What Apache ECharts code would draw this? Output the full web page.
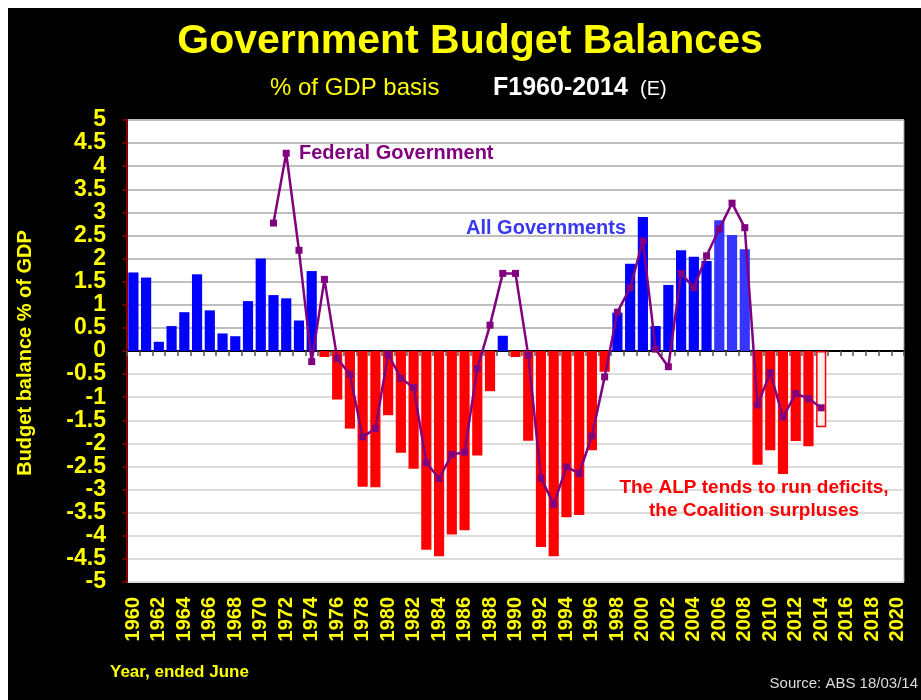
<!DOCTYPE html>
<html>
<head>
<meta charset="utf-8">
<title>Government Budget Balances</title>
<script src="https://cdn.jsdelivr.net/npm/echarts@6/dist/echarts.min.js"></script>
<style>
  html, body { margin: 0; padding: 0; background: #ffffff; }
  #chart { width: 921px; height: 700px; }
</style>
</head>
<body>
<div id="chart"></div>
<script>
// Financial years ended June, 1960 to 2020 (axis runs past the last observation)
const years = [];
for (let y = 1960; y <= 2020; y++) years.push(String(y));

// All governments budget balance, % of GDP, 1960-2014 (2014 is an estimate)
const allGovernments = [
  1.70, 1.59, 0.20, 0.54, 0.84, 1.66, 0.88, 0.38, 0.32, 1.08,   // 1960-1969
  2.00, 1.21, 1.14, 0.66, 1.73, -0.13, -1.05, -1.68, -2.94, -2.95, // 1970-1979
  -1.39, -2.20, -2.55, -4.30, -4.44, -3.97, -3.88, -2.26, -0.87, 0.33, // 1980-1989
  -0.13, -1.94, -4.24, -4.44, -3.60, -3.55, -2.15, -0.45, 0.83, 1.89, // 1990-1999
  2.90, 0.54, 1.43, 2.18, 2.04, 1.95, 2.83, 2.51, 2.20, -2.46,    // 2000-2009
  -2.15, -2.66, -1.95, -2.06, -1.65                               // 2010-2014
];

// Federal government budget balance, % of GDP, 1971-2014
const federalStart = 1971;
const federalGovernment = [
  2.77, 4.28, 2.18, -0.23, 1.55, -0.16, -0.51, -1.86, -1.68,      // 1971-1979
  -0.07, -0.59, -0.79, -2.42, -2.76, -2.24, -2.19, -0.38, 0.56, 1.68, // 1980-1989
  1.68, -0.09, -2.75, -3.32, -2.51, -2.65, -1.84, -0.56, 0.84, 1.37, // 1990-1999
  2.38, 0.04, -0.34, 1.68, 1.37, 2.06, 2.64, 3.20, 2.67, -1.17,   // 2000-2009
  -0.47, -1.43, -0.92, -1.03, -1.23                               // 2010-2014
];

const estimateYear = '2014';
const yTicks = { min: -5, max: 5, step: 0.5 };

const FONT = "'Liberation Sans', Arial, sans-serif";
const YELLOW = '#ffff00';
const PURPLE = '#800080';

// Bars: blue for surplus, red for deficit; estimated year drawn hollow
const barData = years.map((yr, i) => {
  const v = i < allGovernments.length ? allGovernments[i] : null;
  if (v === null) return null;
  let style;
  if (yr === estimateYear) {
    style = { color: '#fff0f0', borderColor: '#ff0000', borderWidth: 1.5 };
  } else if (v >= 0) {
    style = { color: (+yr >= 2006 ? '#3535ff' : '#0000ff') };
  } else {
    style = { color: '#ff0000' };
  }
  return { value: v, itemStyle: style };
});

const lineData = years.map(yr => {
  const k = +yr - federalStart;
  return (k >= 0 && k < federalGovernment.length) ? federalGovernment[k] : null;
});

// Gridlines: lighter below the zero line, darker above
const nLines = Math.round((yTicks.max - yTicks.min) / yTicks.step) + 1;
const gridColors = [];
for (let i = 0; i < nLines; i++) gridColors.push(i < nLines / 2 - 0.5 ? '#dcdcdc' : '#bfbfbf');

const chart = echarts.init(document.getElementById('chart'), null, { renderer: 'canvas' });

chart.setOption({
  backgroundColor: '#000000',
  animation: false,
  grid: {
    left: 127, right: 17, top: 120, bottom: 118,
    show: true, backgroundColor: '#ffffff', borderColor: '#9a9a9a', borderWidth: 1
  },
  xAxis: [
    {
      type: 'category', data: years, position: 'bottom',
      axisLine: { show: false, onZero: false },
      axisTick: { show: false },
      splitLine: { show: false },
      axisLabel: {
        interval: 1, rotate: 90, margin: 15,
        color: YELLOW, fontFamily: FONT, fontWeight: 'bold', fontSize: 20
      }
    },
    {
      type: 'category', data: years, position: 'top',
      axisLine: { show: true, onZero: true, lineStyle: { color: '#000000', width: 2 } },
      axisTick: { show: true, inside: true, length: 5, interval: 0, lineStyle: { color: '#555555', width: 1.5 } },
      axisLabel: { show: false },
      splitLine: { show: false }
    }
  ],
  yAxis: {
    type: 'value', min: yTicks.min, max: yTicks.max, interval: yTicks.step,
    axisLine: { show: true, lineStyle: { color: '#800000', width: 2 } },
    axisTick: { show: true, length: 5, lineStyle: { color: '#800000', width: 1.5 } },
    axisLabel: {
      margin: 21, color: YELLOW, fontFamily: FONT, fontWeight: 'bold', fontSize: 23
    },
    splitLine: { show: true, lineStyle: { color: gridColors, width: 2 } }
  },
  series: [
    {
      name: 'All Governments', type: 'bar', xAxisIndex: 0,
      data: barData, barWidth: '80%', z: 2
    },
    {
      name: 'Federal Government', type: 'line', xAxisIndex: 0,
      data: lineData, connectNulls: false,
      symbol: 'rect', symbolSize: 7, showSymbol: true,
      lineStyle: { color: PURPLE, width: 2.5 },
      itemStyle: { color: PURPLE },
      z: 3
    }
  ],
  graphic: [
    // thin white frame along the top and left edge
    { type: 'rect', shape: { x: 0, y: 0, width: 921, height: 8 }, style: { fill: '#ffffff' }, z: 10 },
    { type: 'rect', shape: { x: 0, y: 0, width: 8, height: 700 }, style: { fill: '#ffffff' }, z: 10 },
    {
      type: 'text', x: 470, y: 42, z: 10,
      style: { text: 'Government Budget Balances', fill: YELLOW, font: `bold 41px ${FONT}`, align: 'center', verticalAlign: 'middle' }
    },
    {
      type: 'text', x: 270, y: 88, z: 10,
      style: { text: '% of GDP basis', fill: YELLOW, font: `24px ${FONT}`, align: 'left', verticalAlign: 'middle' }
    },
    {
      type: 'text', x: 493, y: 88, z: 10,
      style: { text: 'F1960-2014', fill: '#ffffff', font: `bold 25px ${FONT}`, align: 'left', verticalAlign: 'middle' }
    },
    {
      type: 'text', x: 640, y: 89, z: 10,
      style: { text: '(E)', fill: '#ffffff', font: `20px ${FONT}`, align: 'left', verticalAlign: 'middle' }
    },
    {
      type: 'text', x: 25, y: 353, rotation: Math.PI / 2, z: 10,
      style: { text: 'Budget balance % of GDP', fill: YELLOW, font: `bold 20px ${FONT}`, align: 'center', verticalAlign: 'middle' }
    },
    {
      type: 'text', x: 299, y: 153, z: 10,
      style: { text: 'Federal Government', fill: PURPLE, font: `bold 20px ${FONT}`, align: 'left', verticalAlign: 'middle' }
    },
    {
      type: 'text', x: 466, y: 228, z: 10,
      style: { text: 'All Governments', fill: '#3838ee', font: `bold 20px ${FONT}`, align: 'left', verticalAlign: 'middle' }
    },
    {
      type: 'text', x: 754, y: 499, z: 10,
      style: {
        text: 'The ALP tends to run deficits,\nthe Coalition surpluses',
        fill: '#ff0000', font: `bold 19px ${FONT}`, lineHeight: 23,
        align: 'center', verticalAlign: 'middle'
      }
    },
    {
      type: 'text', x: 110, y: 672, z: 10,
      style: { text: 'Year, ended June', fill: YELLOW, font: `bold 17px ${FONT}`, align: 'left', verticalAlign: 'middle' }
    },
    {
      type: 'text', x: 918, y: 684, z: 10,
      style: { text: 'Source: ABS 18/03/14', fill: '#dddddd', font: `15px ${FONT}`, align: 'right', verticalAlign: 'middle' }
    }
  ]
});
</script>
</body>
</html>
